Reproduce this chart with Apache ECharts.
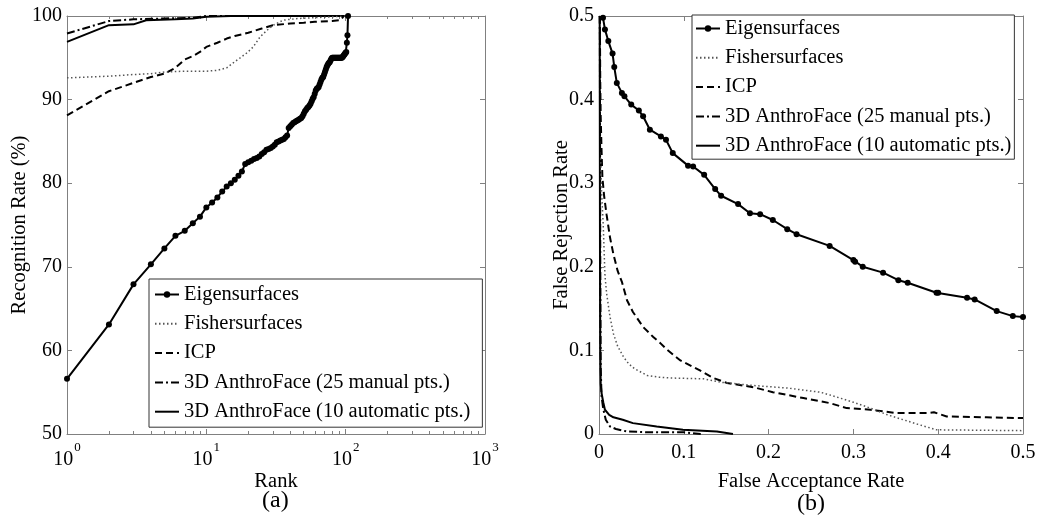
<!DOCTYPE html>
<html>
<head>
<meta charset="utf-8">
<script src="https://cdn.jsdelivr.net/npm/echarts@6/dist/echarts.min.js"></script>
<style>
html,body{margin:0;padding:0;background:#fff;}
#c{width:1037px;height:521px;}
</style>
</head>
<body>
<div id="c"></div>
<script>
// ---------- data ----------
var seriesNames = ['Eigensurfaces', 'Fishersurfaces', 'ICP', '3D AnthroFace (25 manual pts.)', '3D AnthroFace (10 automatic pts.)'];

// (a) CMC: recognition rate (%) for rank 1, 2, 3, ...
var eigenRankValues = [56.6,63.1,67.9,70.3,72.2,73.7,74.3,75.2,76.0,77.1,77.7,78.3,79.0,79.6,80.0,80.4,80.9,81.4,82.3,82.5,
  82.7,82.9,83.0,83.2,83.5,83.7,84.0,84.1,84.2,84.4,84.6,84.9,85.0,85.1,85.2,85.3,85.5,85.7,86.6,86.8,
  87.0,87.2,87.3,87.4,87.5,87.6,87.7,87.8,88.0,88.3,88.6,88.8,89.0,89.1,89.3,89.5,89.8,90.1,90.3,90.7,
  91.1,91.3,91.4,91.5,91.8,92.1,92.4,92.6,92.7,93.0,93.3,93.6,93.9,94.1,94.3,94.4,94.5,94.7,94.9,95.0,
  95.0,95.0,95.0,95.0,95.0,95.0,95.0,95.0,95.0,95.0,95.0,95.0,95.0,95.0,95.1,95.2,95.3,95.4,95.5,95.6,
  95.7,96.8,97.7,100];
// [rank, recognition rate %]
var fisherCMC = [[1,92.6],[2,92.8],[3,93.0],[4,93.1],[5,93.3],[7,93.4],[10,93.4],[12,93.5],[14,93.8],[15.6,94.4],[17.5,95.0],[19.6,95.6],[21.7,96.3],[24.3,97.5],[27.3,98.3],[30.2,98.9],[35.6,99.5],[45,99.7],[60,99.8],[80,99.9],[100,100],[104,100]];
var icpCMC = [[1,88.1],[2,91.0],[3,92.0],[4,92.7],[5,93.1],[6,93.8],[7,94.8],[8,95.2],[9,95.7],[10,96.3],[12,96.8],[14,97.3],[16,97.6],[18,97.8],[20,98.0],[25,98.5],[30,98.9],[40,99.1],[50,99.2],[60,99.3],[80,99.4],[92,99.5],[97,100],[104,100]];
var af25CMC = [[1,97.9],[2,99.4],[3,99.6],[5,99.7],[8,99.8],[10,100],[104,100]];
var af10CMC = [[1,96.9],[2,98.9],[3,99.0],[3.7,99.5],[6,99.6],[8,99.7],[10,99.9],[15,100],[104,100]];

// (b) ROC: [FAR, FRR]
var eigenROC = [[0.003,0.52],[0.0047,0.498],[0.007,0.484],[0.011,0.470],[0.016,0.455],[0.018,0.439],[0.021,0.420],[0.027,0.408],[0.030,0.404],[0.038,0.394],[0.047,0.387],[0.052,0.380],[0.060,0.364],[0.073,0.356],[0.079,0.352],[0.087,0.336],[0.105,0.321],[0.111,0.320],[0.124,0.310],[0.137,0.293],[0.144,0.285],[0.164,0.275],[0.178,0.264],[0.190,0.263],[0.205,0.256],[0.222,0.245],[0.233,0.239],[0.272,0.225],[0.300,0.208],[0.302,0.206],[0.311,0.200],[0.335,0.193],[0.353,0.184],[0.364,0.181],[0.398,0.169],[0.400,0.169],[0.434,0.163],[0.443,0.161],[0.469,0.147],[0.488,0.141],[0.5,0.140]];
var fisherROC = [[0.002,0.33],[0.003,0.29],[0.005,0.25],[0.006,0.22],[0.007,0.19],[0.009,0.168],[0.013,0.140],[0.017,0.12],[0.022,0.105],[0.029,0.092],[0.035,0.084],[0.042,0.078],[0.057,0.070],[0.07,0.068],[0.084,0.067],[0.123,0.066],[0.143,0.062],[0.182,0.058],[0.222,0.055],[0.261,0.050],[0.281,0.044],[0.300,0.038],[0.320,0.031],[0.340,0.023],[0.359,0.017],[0.378,0.011],[0.398,0.005],[0.45,0.0045],[0.5,0.004]];
var icpROC = [[0.001,0.5],[0.0015,0.42],[0.002,0.38],[0.003,0.34],[0.004,0.307],[0.006,0.285],[0.009,0.262],[0.013,0.235],[0.017,0.215],[0.022,0.195],[0.027,0.182],[0.033,0.16],[0.04,0.146],[0.052,0.128],[0.064,0.116],[0.072,0.109],[0.08,0.101],[0.096,0.088],[0.119,0.076],[0.135,0.067],[0.151,0.061],[0.182,0.056],[0.205,0.050],[0.241,0.043],[0.272,0.037],[0.292,0.031],[0.320,0.029],[0.351,0.025],[0.387,0.025],[0.395,0.026],[0.410,0.021],[0.457,0.020],[0.5,0.019]];
var af25ROC = [[0.001,0.5],[0.0015,0.2],[0.002,0.08],[0.003,0.045],[0.005,0.03],[0.008,0.017],[0.013,0.009],[0.02,0.006],[0.033,0.003],[0.06,0.002],[0.1,0.002],[0.12,0]];
var af10ROC = [[0.0008,0.5],[0.0012,0.2],[0.0015,0.1],[0.002,0.06],[0.003,0.049],[0.005,0.038],[0.007,0.029],[0.012,0.023],[0.017,0.020],[0.028,0.017],[0.040,0.013],[0.068,0.009],[0.099,0.005],[0.139,0.003],[0.158,0]];

// tick labels / positions
var rankMinorMultipliers = [2,3,4,5,6,7,8,9];
var rankDecades = [1, 10, 100];
var rateTicks = [0, 0.1, 0.2, 0.3, 0.4, 0.5];

// ---------- build ----------
var eigenCMC = eigenRankValues.map(function(v, i){ return [i + 1, v]; });
var minorLog = [];
rankDecades.forEach(function(d){ rankMinorMultipliers.forEach(function(m){ minorLog.push(Math.log10(d * m)); }); });

var FONT = 'Liberation Serif';
var GREY = '#808080';
var axisCommon = {
  axisLine: {show: true, onZero: false, lineStyle: {color: GREY, width: 1}},
  axisTick: {show: true, inside: true, length: 5, lineStyle: {color: GREY}},
  splitLine: {show: false},
  nameMoveOverlap: false
};
function ax(extra){ return Object.assign({}, JSON.parse(JSON.stringify(axisCommon)), extra); }

var labelStyle = {color: '#000', fontFamily: FONT, fontSize: 20};
var nameStyle = {color: '#000', fontFamily: FONT, fontSize: 20.5};

var xAxes = [
  ax({gridIndex: 0, type: 'log', logBase: 10, min: 1, max: 1000, position: 'bottom',
      name: 'Rank', nameLocation: 'middle', nameGap: 37, nameTextStyle: nameStyle,
      axisLabel: {margin: 7, formatter: function(v){ return '{b|10}{s|' + Math.round(Math.log10(v)) + '}'; },
        rich: {b: {fontFamily: FONT, fontSize: 20, lineHeight: 38, color: '#000', verticalAlign: 'middle'},
               s: {fontFamily: FONT, fontSize: 13, lineHeight: 13, color: '#000', verticalAlign: 'top', padding: [0,0,0,1]}}}}),
  ax({gridIndex: 0, type: 'log', logBase: 10, min: 1, max: 1000, position: 'top', axisLabel: {show: false}}),
  ax({gridIndex: 0, type: 'value', min: 0, max: 3, interval: 1, position: 'bottom',
      axisLine: {show: false}, axisLabel: {show: false},
      axisTick: {show: true, inside: true, length: 3, lineStyle: {color: GREY}, customValues: minorLog}}),
  ax({gridIndex: 0, type: 'value', min: 0, max: 3, interval: 1, position: 'top',
      axisLine: {show: false}, axisLabel: {show: false},
      axisTick: {show: true, inside: true, length: 3, lineStyle: {color: GREY}, customValues: minorLog}}),
  ax({gridIndex: 1, type: 'value', min: 0, max: 0.5, interval: 0.1, position: 'bottom',
      name: 'False Acceptance Rate', nameLocation: 'middle', nameGap: 37, nameTextStyle: nameStyle,
      axisLabel: Object.assign({margin: 9, customValues: rateTicks}, labelStyle)}),
  ax({gridIndex: 1, type: 'value', min: 0, max: 0.5, interval: 0.1, position: 'top', axisLabel: {show: false}})
];
var yAxes = [
  ax({gridIndex: 0, type: 'value', min: 50, max: 100, interval: 10, position: 'left',
      name: 'Recognition Rate (%)', nameLocation: 'middle', nameGap: 37, nameTextStyle: nameStyle,
      axisLabel: Object.assign({margin: 5}, labelStyle)}),
  ax({gridIndex: 0, type: 'value', min: 50, max: 100, interval: 10, position: 'right', axisLabel: {show: false}}),
  ax({gridIndex: 1, type: 'value', min: 0, max: 0.5, interval: 0.1, position: 'left',
      name: 'False Rejection Rate', nameLocation: 'middle', nameGap: 27, nameTextStyle: nameStyle,
      axisLabel: Object.assign({margin: 5}, labelStyle)}),
  ax({gridIndex: 1, type: 'value', min: 0, max: 0.5, interval: 0.1, position: 'right', axisLabel: {show: false}})
];

var styles = [
  {lineStyle: {color: '#000', width: 2, type: 'solid'}, symbol: 'circle', symbolSize: 6},
  {lineStyle: {color: '#555', width: 1.5, type: [1.5, 2.5]}, symbol: 'none'},
  {lineStyle: {color: '#000', width: 2, type: [7, 4]}, symbol: 'none'},
  {lineStyle: {color: '#000', width: 2, type: [8, 3, 2, 3]}, symbol: 'none'},
  {lineStyle: {color: '#000', width: 2, type: 'solid'}, symbol: 'none'}
];
var dataA = [eigenCMC, fisherCMC, icpCMC, af25CMC, af10CMC];
var dataB = [eigenROC, fisherROC, icpROC, af25ROC, af10ROC];
var series = [];
function addSeries(d, i, xi, yi){
  series.push({name: seriesNames[i], type: 'line', xAxisIndex: xi, yAxisIndex: yi, data: d,
    symbol: styles[i].symbol, symbolSize: styles[i].symbolSize || 0, showSymbol: styles[i].symbol !== 'none',
    lineStyle: styles[i].lineStyle, itemStyle: {color: styles[i].lineStyle.color}, z: 7 - i, clip: true});
}
dataA.forEach(function(d, i){ addSeries(d, i, 0, 0); });
dataB.forEach(function(d, i){ addSeries(d, i, 4, 2); });

// legend entries: only Eigensurfaces shows a marker
var legendData = seriesNames.map(function(n, i){
  return i === 0 ? {name: n} : {name: n, itemStyle: {color: 'rgba(0,0,0,0)', borderWidth: 0, opacity: 0}};
});

var legendText = {color: '#000', fontFamily: FONT, fontSize: 20.5, lineHeight: 20};
var option = {
  animation: false,
  backgroundColor: '#fff',
  grid: [
    {left: 67, top: 16, width: 418, height: 418, outerBoundsMode: 'none'},
    {left: 599, top: 16, width: 424, height: 418, outerBoundsMode: 'none'}
  ],
  xAxis: xAxes,
  yAxis: yAxes,
  legend: [
    {data: legendData, orient: 'vertical', left: 149, top: 279, padding: [5, 12, 5, 5], itemGap: 8.3,
     itemWidth: 24, itemHeight: 8, selectedMode: false, textStyle: legendText,
     backgroundColor: '#fff', borderColor: '#333', borderWidth: 1, borderRadius: 0, z: 20},
    {data: legendData, orient: 'vertical', left: 692, top: 15, padding: [3, 3, 3, 3], itemGap: 8.3,
     itemWidth: 24, itemHeight: 8, selectedMode: false, textStyle: legendText,
     backgroundColor: '#fff', borderColor: '#333', borderWidth: 1, borderRadius: 0, z: 20}
  ],
  graphic: [
    {type: 'text', left: 262, top: 489, style: {text: '(a)', fill: '#000', font: '24px "Liberation Serif"'}},
    {type: 'text', left: 797, top: 492, style: {text: '(b)', fill: '#000', font: '24px "Liberation Serif"'}}
  ],
  series: series
};
var chart = echarts.init(document.getElementById('c'), null, {renderer: 'canvas'});
chart.setOption(option);
</script>
</body>
</html>
